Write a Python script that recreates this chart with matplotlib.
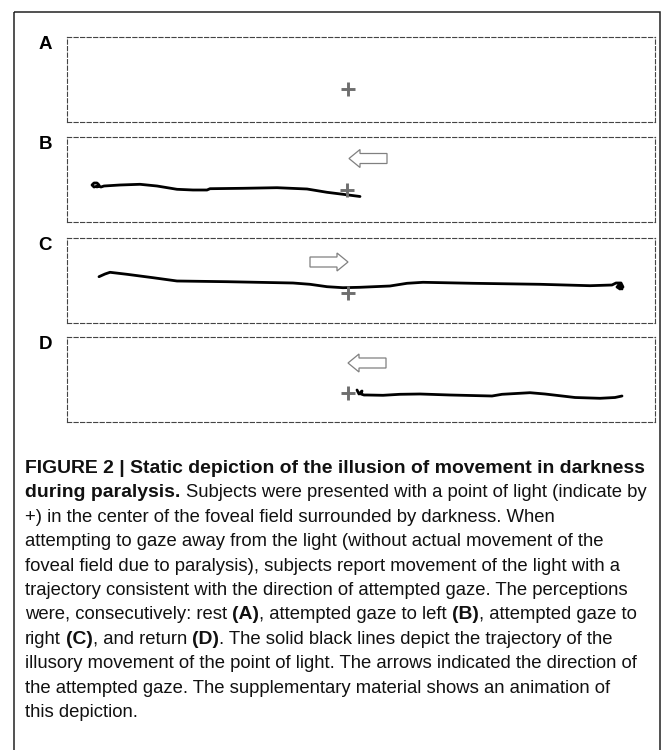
import matplotlib
matplotlib.use('Agg')
import matplotlib.pyplot as plt
from matplotlib.patches import FancyArrow, Rectangle

plt.rcParams['lines.scale_dashes'] = False

W, H = 671, 750

# ---------------- data (image-pixel units) ----------------
panel_labels = ['A', 'B', 'C', 'D']
box_top = [37, 137, 238, 337]
box_bottom = [122, 222, 323, 422]
box_left, box_right = 67, 655

# position of the point of light (+) in each panel
light_x = [348, 347, 348, 348]
light_y = [89, 190, 292.5, 393]

# attempted-gaze arrows: tail x, y, direction (-1 left, +1 right, 0 none)
arrow_tail_x = [0, 387, 310, 386]
arrow_y = [0, 158.5, 262, 363]
arrow_dir = [0, -1, 1, -1]

# illusory trajectories of the light
traj_B_x = [97, 99, 97, 94, 92, 94, 98, 101, 104, 120, 140, 157, 177, 193, 207, 210,
            243, 277, 307, 327, 343, 360]
traj_B_y = [187, 185, 183, 183, 185, 187, 186, 187, 186, 185, 184.3, 186, 189.3, 190,
            190, 188.7, 188.3, 187.7, 189, 192.3, 194.3, 196.5]

traj_C_x = [99, 105, 110, 127, 153, 177, 227, 293, 310, 327, 343, 360, 390, 407, 423,
            473, 540, 590, 612, 616, 621, 623, 620, 617, 619, 622]
traj_C_y = [276.7, 274, 272.3, 274.3, 277.7, 281, 281.7, 283, 284.3, 286.7, 287.7, 287.3,
            286, 283.3, 282.3, 283.3, 284.3, 285.7, 285, 283, 283, 287, 289, 287, 285, 289]

traj_D_x = [357, 359, 362, 361, 364, 367, 383, 400, 420, 450, 492, 502, 530, 545, 575,
            600, 615, 622]
traj_D_y = [390, 394, 391, 394, 395, 395, 395.3, 394.3, 394, 395, 396, 394.3, 392.7, 394,
            397.5, 398.3, 397.5, 396]

trajectories = {1: (traj_B_x, traj_B_y), 2: (traj_C_x, traj_C_y), 3: (traj_D_x, traj_D_y)}

# caption lines: list of (text, bold) segments
caption = [
    [("FIGURE 2 | Static depiction of the illusion of movement in darkness", True)],
    [("during paralysis.", True), ("Subjects were presented with a point of light (indicate by", False)],
    [("+) in the center of the foveal field surrounded by darkness. When", False)],
    [("attempting to gaze away from the light (without actual movement of the", False)],
    [("foveal field due to paralysis), subjects report movement of the light with a", False)],
    [("trajectory consistent with the direction of attempted gaze. The perceptions", False)],
    [("were, consecutively: rest", False), ("(A)", True), (", attempted gaze to left", False),
     ("(B)", True), (", attempted gaze to", False)],
    [("right", False), ("(C)", True), (", and return", False), ("(D)", True),
     (". The solid black lines depict the trajectory of the", False)],
    [("illusory movement of the point of light. The arrows indicated the direction of", False)],
    [("the attempted gaze. The supplementary material shows an animation of", False)],
    [("this depiction.", False)],
]
# whether a space separates segment k from segment k+1
caption_gaps = [
    [], [True], [], [], [], [],
    [True, False, True, False],
    [True, False, True, False],
    [], [], [],
]

# ---------------- figure ----------------
fig = plt.figure(figsize=(W / 100, H / 100), dpi=100)
bg = fig.add_axes([0, 0, 1, 1])
bg.set_xlim(0, W)
bg.set_ylim(H, 0)
bg.axis('off')

# outer frame
bg.add_patch(Rectangle((13.5, 12), 646, 800, fill=False, ec='#222222', lw=1.1,
                       clip_on=False))

FONT = ['Liberation Sans', 'DejaVu Sans']

for i in range(4):
    ax = fig.add_axes([box_left / W, 1 - box_bottom[i] / H,
                       (box_right - box_left) / W, (box_bottom[i] - box_top[i]) / H])
    ax.set_xlim(box_left, box_right)
    ax.set_ylim(box_bottom[i], box_top[i])
    ax.set_xticks([])
    ax.set_yticks([])
    ax.patch.set_alpha(0)
    for sp in ax.spines.values():
        sp.set_linestyle((0, (3.0, 1.7)))
        sp.set_linewidth(0.8)
        sp.set_edgecolor('#444444')

    if i in trajectories:
        tx, ty = trajectories[i]
        ax.plot(tx, ty, color='black', lw=2.0, solid_capstyle='round',
                solid_joinstyle='round', zorder=3)

    ax.plot([light_x[i]], [light_y[i]], ls='none', marker='+', ms=10, mew=2.1,
            color='#6e6e6e', zorder=4)

    if arrow_dir[i] != 0:
        ax.add_patch(FancyArrow(arrow_tail_x[i], arrow_y[i], 38 * arrow_dir[i], 0,
                                width=10, head_width=18, head_length=11,
                                length_includes_head=True, fc='white', ec='#808080',
                                lw=0.9, zorder=5))

    bg.text(45, box_top[i] - 1, panel_labels[i], ha='center', va='top',
            fontsize=13.5, fontweight='bold', family=FONT)

# ---------------- caption ----------------
r = fig.canvas.get_renderer()


def text_width(s, bold, fs):
    t = bg.text(0, 0, s, fontsize=fs, fontweight='bold' if bold else 'normal', family=FONT)
    w = t.get_window_extent(renderer=r).width
    t.remove()
    return w


fs_b = 12.0
fs_b = fs_b * 617 / text_width(caption[0][0][0], True, fs_b)
fs_r = 12.0
fs_r = fs_r * 614 / text_width(caption[8][0][0], False, fs_r)
sizes = {True: fs_b, False: fs_r}
space = text_width('a a', False, fs_r) - text_width('aa', False, fs_r)

x0, y0, dy = 25, 473, 24.4
for li, segs in enumerate(caption):
    x = x0
    y = y0 + li * dy
    for k, (s, bold) in enumerate(segs):
        fsz = sizes[bold]
        bg.text(x, y, s, fontsize=fsz, fontweight='bold' if bold else 'normal',
                family=FONT, ha='left', va='baseline', color='#111111')
        x += text_width(s, bold, fsz)
        if k < len(segs) - 1 and caption_gaps[li][k]:
            x += space

fig.savefig('out.png', dpi=100)
